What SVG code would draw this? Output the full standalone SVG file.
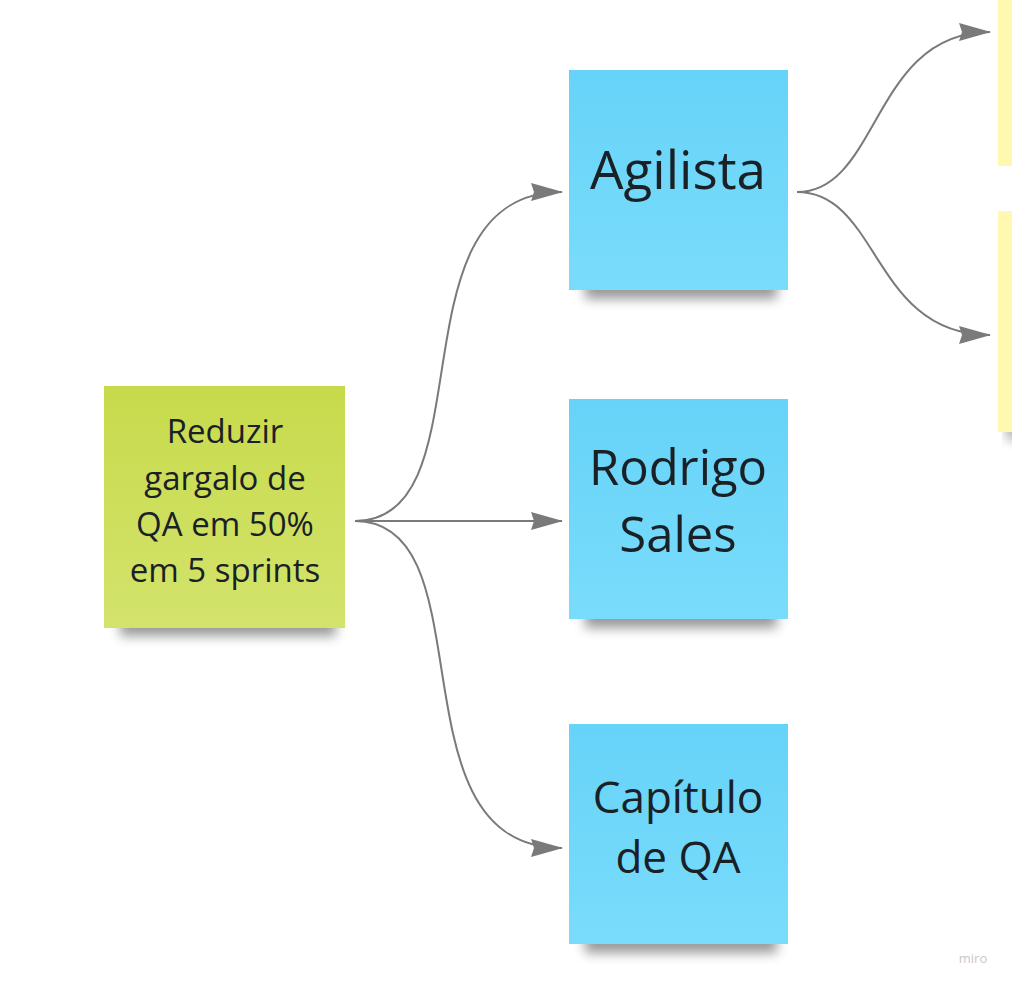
<svg xmlns="http://www.w3.org/2000/svg" width="1012" height="987" viewBox="0 0 1012 987">
<defs>
<style>
.t{font-family:"Open Sans","Noto Sans",sans-serif;fill:#1a2126;text-anchor:middle}
.sm{font-size:33px}
.c{fill:none;stroke:#7a7a7a;stroke-width:2}
</style>
<linearGradient id="gb" x1="0" y1="0" x2="0" y2="1"><stop offset="0" stop-color="#66d3f8"/><stop offset="1" stop-color="#7adcfb"/></linearGradient>
<linearGradient id="gg" x1="0" y1="0" x2="0" y2="1"><stop offset="0" stop-color="#c8da4b"/><stop offset="1" stop-color="#d3e36c"/></linearGradient>
<filter id="sh" x="-20%" y="-50%" width="140%" height="200%"><feGaussianBlur stdDeviation="6"/></filter>
<marker id="ar" viewBox="0 0 32 18" refX="31" refY="9" markerWidth="32" markerHeight="18" markerUnits="userSpaceOnUse" orient="auto"><path d="M0,0 L32,9 L0,18 L3,9 Z" fill="#7a7a7a"/></marker>
</defs>
<rect width="1012" height="987" fill="#ffffff"/>
<g id="connectors">
<path class="c" marker-end="url(#ar)" d="M355,521 C490,521 388,192 562,192"/>
<path class="c" marker-end="url(#ar)" d="M355,521 L562,521"/>
<path class="c" marker-end="url(#ar)" d="M355,521 C490,521 388,848 562,848"/>
<path class="c" marker-end="url(#ar)" d="M797,192 C880,192 872,32 990,32"/>
<path class="c" marker-end="url(#ar)" d="M797,192 C880,192 872,335 990,335"/>
</g>
<g id="goal">
<rect x="120" y="610" width="216" height="26" fill="#000" opacity="0.4" filter="url(#sh)"/>
<rect x="104" y="386" width="241" height="242" fill="url(#gg)"/>
<text class="t sm" x="225"><tspan x="225" y="443">Reduzir</tspan><tspan x="225" y="490">gargalo de</tspan><tspan x="225" y="536">QA em 50%</tspan><tspan x="225" y="582">em 5 sprints</tspan></text>
</g>
<g id="agilista">
<rect x="585" y="273" width="192" height="26" fill="#000" opacity="0.4" filter="url(#sh)"/>
<rect x="569" y="70" width="219" height="220" fill="url(#gb)"/>
<text class="t" font-size="53" x="678" y="189">Agilista</text>
</g>
<g id="rodrigo">
<rect x="585" y="602" width="192" height="26" fill="#000" opacity="0.4" filter="url(#sh)"/>
<rect x="569" y="399" width="219" height="220" fill="url(#gb)"/>
<text class="t" font-size="49" x="678"><tspan x="678" y="485">Rodrigo</tspan><tspan x="678" y="552">Sales</tspan></text>
</g>
<g id="capitulo">
<rect x="585" y="927" width="192" height="26" fill="#000" opacity="0.4" filter="url(#sh)"/>
<rect x="569" y="724" width="219" height="220" fill="url(#gb)"/>
<text class="t" font-size="44" x="678"><tspan x="678" y="813">Capítulo</tspan><tspan x="678" y="873">de QA</tspan></text>
</g>
<g id="yellow1">
<rect x="998" y="0" width="20" height="166" fill="#fff8b0"/>
</g>
<g id="yellow2">
<rect x="1006" y="418" width="20" height="22" fill="#000" opacity="0.3" filter="url(#sh)"/>
<rect x="998" y="211" width="20" height="221" fill="#fff8b0"/>
</g>
<text x="973" y="963" font-family="'Open Sans',sans-serif" font-size="13" fill="#c8c8c8" text-anchor="middle">miro</text>
</svg>
